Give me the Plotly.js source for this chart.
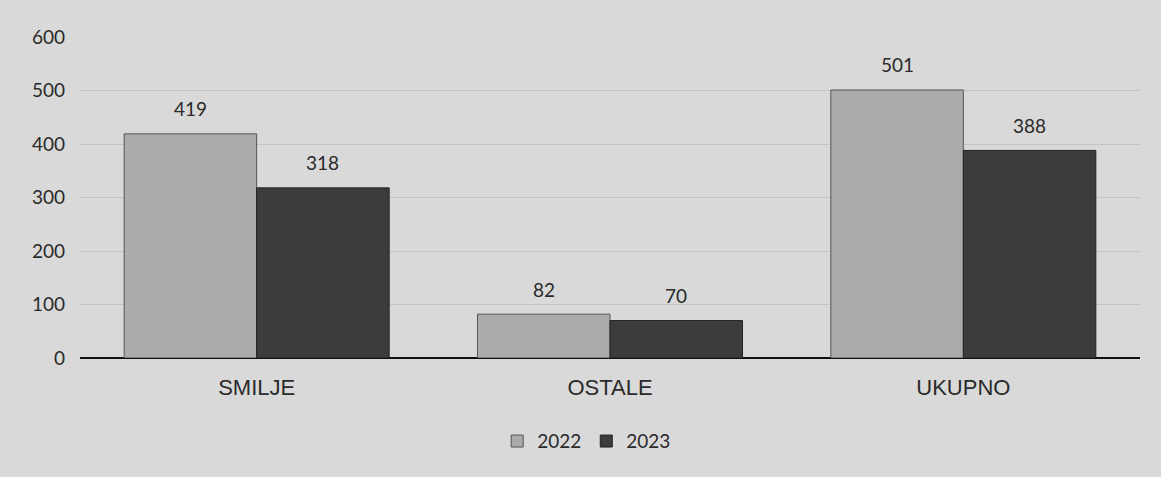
<!DOCTYPE html>
<html><head><meta charset="utf-8">
<script src="https://cdn.plot.ly/plotly-3.0.1.min.js"></script>
<style>html,body{margin:0;padding:0;background:#d9d9d9;}#c{width:1161px;height:477px;}</style>
</head><body><div id="c"></div>
<script>
const categories = ["SMILJE", "OSTALE", "UKUPNO"];
const values2022 = [419, 82, 501];
const values2023 = [318, 70, 388];
const seriesNames = ["2022", "2023"];
const yTicks = [0, 100, 200, 300, 400, 500, 600];

const numFont = {family: "Lato, 'Open Sans', sans-serif", size: 19, color: "#2a2a2a"};

const traces = [
  {type: "bar", name: seriesNames[0], x: categories, y: values2022,
   marker: {color: "#ababab", line: {color: "#555", width: 1}}},
  {type: "bar", name: seriesNames[1], x: categories, y: values2023,
   marker: {color: "#3c3c3c", line: {color: "#222", width: 1}}}
];

const annotations = [];
[values2022, values2023].forEach((vals, si) => {
  vals.forEach((v, i) => {
    annotations.push({x: categories[i], y: v, text: String(v), showarrow: false,
      xshift: si === 0 ? -66 : 66, yshift: 25, font: numFont,
      xref: "x", yref: "y"});
  });
});

const layout = {
  width: 1161, height: 477,
  margin: {l: 80, r: 21, t: 37, b: 119},
  paper_bgcolor: "#d9d9d9", plot_bgcolor: "#d9d9d9",
  barmode: "group", bargap: 0.25, bargroupgap: 0,
  showlegend: true,
  legend: {orientation: "h", x: 0.478, xanchor: "center", y: -0.2, yanchor: "top",
    font: {family: "Lato, 'Open Sans', sans-serif", size: 19, color: "#2a2a2a"},
    itemwidth: 30, traceorder: "normal"},
  xaxis: {tickfont: {family: "'Liberation Sans', Arial, sans-serif", size: 22, color: "#2a2a2a"},
    showline: false, ticks: "", ticklabelstandoff: 14},
  yaxis: {range: [0, 600], tickvals: yTicks, ticktext: yTicks.map(String),
    tickfont: numFont, gridcolor: "#c4c4c4", gridwidth: 1,
    zeroline: true, zerolinecolor: "#111", zerolinewidth: 2,
    ticklabelstandoff: 14, fixedrange: true},
  annotations: annotations
};

Plotly.newPlot("c", traces, layout, {displayModeBar: false, staticPlot: true});
</script>
</body></html>
